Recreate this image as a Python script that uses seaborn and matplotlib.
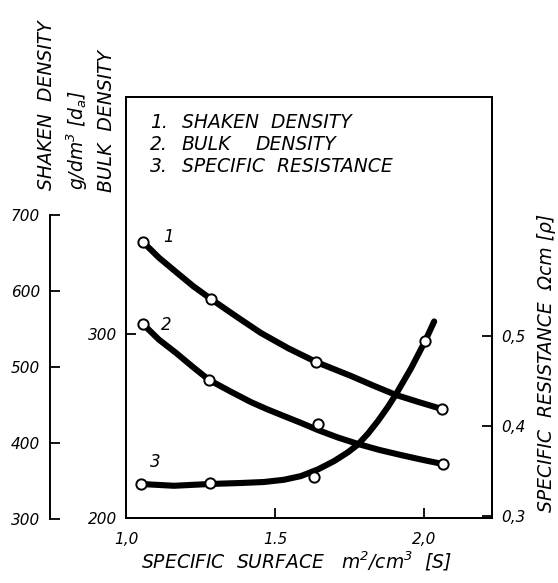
import matplotlib
matplotlib.use("Agg")
import matplotlib.pyplot as plt
import seaborn as sns
import pandas as pd

# ---------------- data ----------------
# measured points (open circles)
shaken_x = [1.057, 1.285, 1.638, 2.060]
shaken_y = [664.5, 589.5, 506.6, 444.7]          # g/dm3, outer left axis

bulk_x = [1.057, 1.279, 1.644, 2.064]
bulk_y = [305.4, 275.0, 251.1, 229.3]            # g/dm3, inner left axis

resist_x = [1.050, 1.282, 1.631, 2.003]
resist_y = [0.3356, 0.3367, 0.3433, 0.4944]      # ohm cm, right axis

# traced smooth curves drawn through the points
shaken_curve_x = [1.057, 1.110, 1.168, 1.225, 1.285, 1.370, 1.453, 1.545,
                  1.638, 1.755, 1.830, 1.906, 1.985, 2.060]
shaken_curve_y = [664.5, 644.0, 625.0, 606.5, 589.5, 566.5, 544.7, 524.5,
                  506.6, 488.2, 475.5, 463.2, 453.5, 444.7]

bulk_curve_x = [1.057, 1.110, 1.168, 1.225, 1.279, 1.350, 1.419, 1.475,
                1.530, 1.590, 1.644, 1.710, 1.779, 1.850, 1.923, 1.995, 2.064]
bulk_curve_y = [305.4, 297.0, 289.7, 282.0, 275.0, 268.8, 263.0, 259.0,
                255.4, 251.5, 247.8, 243.8, 240.2, 237.0, 234.2, 231.6, 229.3]

resist_curve_x = [1.050, 1.161, 1.282, 1.386, 1.463, 1.530, 1.587, 1.644,
                  1.698, 1.745, 1.779, 1.812, 1.846, 1.879, 1.906, 1.956,
                  2.003, 2.034]
resist_curve_y = [0.3356, 0.3336, 0.3356, 0.3367, 0.3378, 0.3403, 0.3444,
                  0.3518, 0.3610, 0.3709, 0.3797, 0.3916, 0.4059, 0.4214,
                  0.4354, 0.4639, 0.4939, 0.5162]

x_ticks = [1.0, 1.5, 2.0]
x_tick_labels = ["1,0", "1.5", "2,0"]
outer_ticks = [300, 400, 500, 600, 700]
inner_ticks = [200, 300]
right_ticks = [0.3, 0.4, 0.5]
right_tick_labels = ["0,3", "0,4", "0,5"]

# ---------------- style ----------------
sns.set_theme(style="white", rc={"xtick.bottom": True, "ytick.left": True,
                                 "ytick.right": True})
plt.rcParams["font.family"] = ["DejaVu Sans"]
plt.rcParams["font.style"] = "italic"
plt.rcParams["mathtext.fontset"] = "custom"
plt.rcParams["mathtext.rm"] = "DejaVu Sans:italic"
plt.rcParams["mathtext.it"] = "DejaVu Sans:italic"

W, H = 558, 583
fig = plt.figure(figsize=(W / 100, H / 100), dpi=100)
fig.patch.set_facecolor("white")


def fx(px):
    return px / W


def fy(py):
    return 1 - py / H


# main box: x 126..492, y 97..518 px
ax = fig.add_axes([fx(126), fy(518), (492 - 126) / W, (518 - 97) / H])
ax_r = ax.twinx()
# outer shaken-density axis: 700 at y=215, 300 at y=519
ax_o = fig.add_axes([fx(126), fy(519), (492 - 126) / W, (519 - 215) / H])
ax_o.patch.set_alpha(0)

xlim = (1.0, 2.228)
for a in (ax, ax_r, ax_o):
    a.set_xlim(*xlim)

ax.set_ylim(200, 428.8)
ax_r.set_ylim(0.2978, 0.7656)
ax_o.set_ylim(300, 700)

LW = 4.4
lc = "black"
mk = dict(marker="o", s=55, facecolor="white", edgecolor="black",
          linewidth=1.4, zorder=5, clip_on=False, legend=False)

# curve 1 - shaken density (outer axis)
sns.lineplot(data=pd.DataFrame({"x": shaken_curve_x, "y": shaken_curve_y}),
             x="x", y="y", ax=ax_o, sort=False, estimator=None,
             color=lc, linewidth=LW, legend=False)
sns.scatterplot(x=shaken_x, y=shaken_y, ax=ax_o, **mk)

# curve 2 - bulk density (inner left axis)
sns.lineplot(data=pd.DataFrame({"x": bulk_curve_x, "y": bulk_curve_y}),
             x="x", y="y", ax=ax, sort=False, estimator=None,
             color=lc, linewidth=LW, legend=False)
sns.scatterplot(x=bulk_x, y=bulk_y, ax=ax, **mk)

# curve 3 - specific resistance (right axis)
sns.lineplot(data=pd.DataFrame({"x": resist_curve_x, "y": resist_curve_y}),
             x="x", y="y", ax=ax_r, sort=False, estimator=None,
             color=lc, linewidth=LW, legend=False)
sns.scatterplot(x=resist_x, y=resist_y, ax=ax_r, **mk)

for a in (ax, ax_r, ax_o):
    a.set_xlabel("")
    a.set_ylabel("")
    for ln in a.get_lines():
        ln.set_solid_capstyle("round")
        ln.set_solid_joinstyle("round")

# ---------------- spines & ticks ----------------
SW = 1.4
for s in ax.spines.values():
    s.set_color("black")
    s.set_linewidth(SW)
for s in ax_r.spines.values():
    s.set_color("black")
    s.set_linewidth(SW)
for name in ("top", "right", "bottom"):
    ax_o.spines[name].set_visible(False)
ax_o.spines["left"].set_position(("axes", -(126 - 50) / (492 - 126)))
ax_o.spines["left"].set_color("black")
ax_o.spines["left"].set_linewidth(SW)

TFS = 11
ax.set_xticks(x_ticks)
ax.set_xticklabels(x_tick_labels, fontsize=TFS, style="italic")
ax.set_yticks(inner_ticks)
ax.set_yticklabels([str(t) for t in inner_ticks], fontsize=TFS, style="italic")
ax.tick_params(axis="both", direction="in", length=7, width=1.3,
               color="black", labelcolor="black")
ax.tick_params(axis="x", bottom=True, top=False, pad=10)
ax.tick_params(axis="y", left=True, right=False, pad=6)

ax_r.set_yticks(right_ticks)
ax_r.set_yticklabels(right_tick_labels, fontsize=TFS, style="italic")
ax_r.tick_params(axis="y", direction="in", length=7, width=1.3,
                 color="black", labelcolor="black", pad=7,
                 right=True, left=False, labelright=True, labelleft=False)

ax_o.set_xticks([])
ax_o.set_yticks(outer_ticks)
ax_o.set_yticklabels([str(t) for t in outer_ticks], fontsize=TFS,
                     style="italic")
ax_o.tick_params(axis="y", direction="in", length=7.5, width=1.3,
                 color="black", labelcolor="black", pad=7,
                 left=True, right=False)

# ---------------- texts ----------------
TS = 13.5
kw = dict(style="italic", color="black", fontsize=TS, va="center")
fig.text(fx(150), fy(122), "1.", **kw)
fig.text(fx(182), fy(122), "SHAKEN  DENSITY", **kw)
fig.text(fx(150), fy(145), "2.", **kw)
fig.text(fx(182), fy(145), "BULK", **kw)
fig.text(fx(256), fy(145), "DENSITY", **kw)
fig.text(fx(150), fy(167), "3.", **kw)
fig.text(fx(182), fy(167), "SPECIFIC  RESISTANCE", **kw)

ckw = dict(style="italic", color="black", fontsize=12, ha="center",
           va="center")
fig.text(fx(168), fy(237), "1", **ckw)
fig.text(fx(166), fy(325), "2", **ckw)
fig.text(fx(155), fy(462), "3", **ckw)

lkw = dict(style="italic", color="black", fontsize=TS, rotation=90,
           ha="center", va="bottom")
fig.text(fx(47), fy(190), "SHAKEN  DENSITY", **lkw)
fig.text(fx(77), fy(190), r"g/dm$^3$ [d$_a$]", **lkw)
fig.text(fx(107), fy(192), "BULK  DENSITY", **lkw)

fig.text(fx(547), fy(363), "SPECIFIC  RESISTANCE  Ωcm [ρ]",
         style="italic", color="black", fontsize=TS, rotation=90,
         ha="center", va="center")
fig.text(fx(296), fy(561), r"SPECIFIC  SURFACE   m$^2$/cm$^3$  [S]",
         style="italic", color="black", fontsize=TS, ha="center",
         va="center")

fig.savefig("out.png", dpi=100, facecolor="white")
